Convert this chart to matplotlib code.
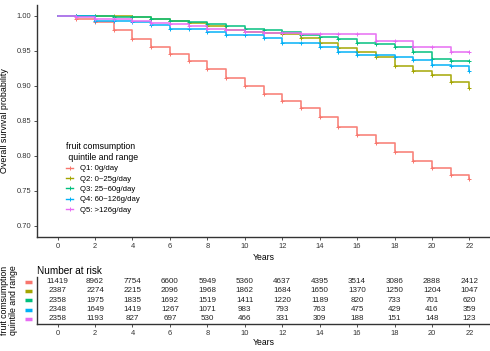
import matplotlib
matplotlib.use("Agg")
import matplotlib.pyplot as plt
from matplotlib.lines import Line2D

plt.rcParams['font.family'] = ['Liberation Sans', 'DejaVu Sans']

years = list(range(0, 23))
q1 = [1.000, 0.996, 0.991, 0.980, 0.967, 0.956, 0.946, 0.935, 0.924, 0.911, 0.900, 0.889,
      0.879, 0.868, 0.856, 0.841, 0.830, 0.818, 0.805, 0.793, 0.783, 0.773, 0.767]
q2 = [1.000, 1.000, 1.000, 1.000, 0.998, 0.995, 0.993, 0.990, 0.985, 0.980, 0.977, 0.975,
      0.974, 0.968, 0.962, 0.954, 0.948, 0.941, 0.929, 0.922, 0.915, 0.906, 0.897]
q3 = [1.000, 1.000, 1.000, 0.999, 0.998, 0.995, 0.993, 0.992, 0.989, 0.985, 0.982, 0.980,
      0.977, 0.973, 0.970, 0.967, 0.962, 0.960, 0.955, 0.948, 0.939, 0.936, 0.935]
q4 = [1.000, 1.000, 0.993, 0.993, 0.991, 0.987, 0.982, 0.981, 0.977, 0.973, 0.973, 0.968,
      0.962, 0.962, 0.956, 0.949, 0.944, 0.944, 0.941, 0.937, 0.930, 0.928, 0.921]
q5 = [1.000, 0.998, 0.996, 0.995, 0.993, 0.990, 0.988, 0.985, 0.981, 0.980, 0.977, 0.976,
      0.975, 0.974, 0.974, 0.974, 0.974, 0.964, 0.964, 0.956, 0.956, 0.949, 0.949]

labels = ["Q1: 0g/day", "Q2: 0~25g/day", "Q3: 25~60g/day", "Q4: 60~126g/day", "Q5: >126g/day"]
colors = ["#F8766D", "#A3A500", "#00BF7D", "#00B0F6", "#E76BF3"]

risk_times = list(range(0, 23, 2))
risk_q1 = [11419, 8962, 7754, 6600, 5949, 5360, 4637, 4395, 3514, 3086, 2888, 2412]
risk_q2 = [2387, 2274, 2215, 2096, 1968, 1862, 1684, 1650, 1370, 1250, 1204, 1047]
risk_q3 = [2358, 1975, 1835, 1692, 1519, 1411, 1220, 1189, 820, 733, 701, 620]
risk_q4 = [2348, 1649, 1419, 1267, 1071, 983, 793, 763, 475, 429, 416, 359]
risk_q5 = [2358, 1193, 827, 697, 530, 466, 331, 309, 188, 151, 148, 123]

y_ticks = [0.70, 0.75, 0.80, 0.85, 0.90, 0.95, 1.00]
x_ticks = list(range(0, 23, 2))

series = [q1, q2, q3, q4, q5]
risks = [risk_q1, risk_q2, risk_q3, risk_q4, risk_q5]

W, H = 490, 351
fig = plt.figure(figsize=(W / 100, H / 100), dpi=100)

def fr(l, t, r, b):
    return [l / W, 1 - b / H, (r - l) / W, (b - t) / H]

ax = fig.add_axes(fr(37, 5, 490, 237))
for s, c in zip(series, colors):
    ax.step(years, s, where='post', color=c, lw=1.2, alpha=0.9)
    ax.plot(years[1:], s[1:], linestyle='none', marker='+', ms=3.5, mew=0.7, color=c)

ax.set_xlim(-1.1, 23.1)
ax.set_ylim(0.684, 1.0157)
ax.set_yticks(y_ticks)
ax.set_yticklabels([f"{v:.2f}" for v in y_ticks])
ax.set_xticks(x_ticks)
for sp in ['top', 'right']:
    ax.spines[sp].set_visible(False)
for sp in ['left', 'bottom']:
    ax.spines[sp].set_linewidth(1.0)
    ax.spines[sp].set_color('#333333')
ax.tick_params(axis='both', labelsize=5.4, length=2.5, width=0.6, pad=1.5, colors='#333333')
ax.set_ylabel("Overall survival probability", fontsize=6.4)
ax.yaxis.set_label_coords(-0.062, 0.5)
ax.set_xlabel("Years", fontsize=6.2)
ax.xaxis.set_label_coords(0.5, -0.07)

handles = [Line2D([0], [0], color=c, lw=1.0, marker='+', ms=3.5, mew=0.7) for c in colors]
leg = ax.legend(handles, labels, title="fruit comsumption\n quintile and range",
                loc='upper left', bbox_to_anchor=(61 / W, 1 - 137 / H),
                bbox_transform=fig.transFigure, frameon=False,
                fontsize=5.6, title_fontsize=6.3, handlelength=0.8,
                handletextpad=0.9, labelspacing=0.38, borderpad=0.2)
leg._legend_box.align = "left"

# risk table
ax2 = fig.add_axes(fr(37, 277, 490, 324))
nrow = len(risks)
for i, (r, c) in enumerate(zip(risks, colors)):
    y = nrow - 1 - i
    for t, v in zip(risk_times, r):
        ax2.text(t, y, str(v), ha='center', va='center', fontsize=5.8, color='#222222')
    ax2.plot([-0.027, -0.011], [(y + 0.55) / 5.05] * 2, transform=ax2.transAxes,
             color=c, lw=2.5, clip_on=False, solid_capstyle='butt')
ax2.set_xlim(-1.1, 23.1)
ax2.set_ylim(-0.55, 4.5)
ax2.set_yticks([])
ax2.set_xticks(x_ticks)
for sp in ['top', 'right']:
    ax2.spines[sp].set_visible(False)
for sp in ['left', 'bottom']:
    ax2.spines[sp].set_linewidth(1.0)
    ax2.spines[sp].set_color('#333333')
ax2.tick_params(axis='both', labelsize=5.4, length=2.5, width=0.6, pad=1.5, colors='#333333')
ax2.set_xlabel("Years", fontsize=6.2)
ax2.xaxis.set_label_coords(0.5, -0.30)
ax2.set_title("Number at risk", fontsize=7.2, loc='left', pad=2)
fig.text(9 / W, 1 - 300 / H, "fruit comsumption\nquintile and range", rotation=90,
         ha='center', va='center', fontsize=6.3, linespacing=1.0)

fig.savefig("out.png", dpi=100)
